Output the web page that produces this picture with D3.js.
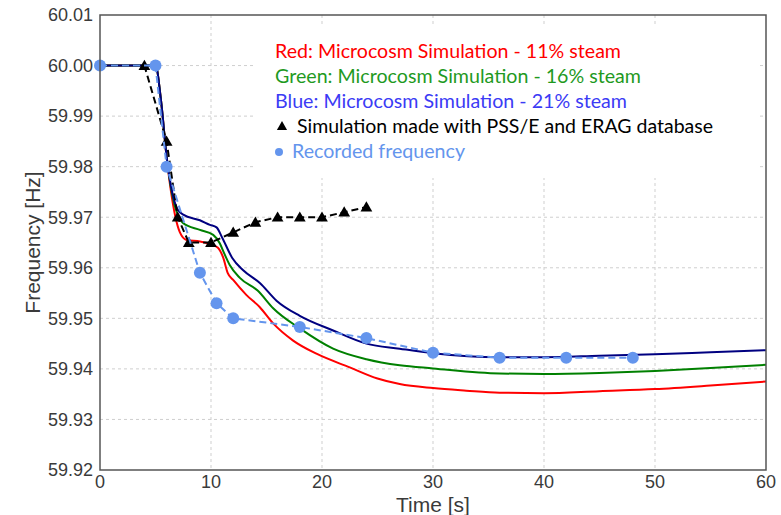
<!DOCTYPE html>
<html>
<head>
<meta charset="utf-8">
<script src="https://cdn.jsdelivr.net/npm/d3@7"></script>
<style>
  body { margin: 0; background: #fff; }
  svg { display: block; }
</style>
</head>
<body>
<svg id="chart"></svg>
<script>
// time [s] / frequency [Hz]
const redSim = [[0,60.000],[5,60.000],[5.5,59.993],[6,59.982],[6.4,59.975],[6.8,59.970],[7.2,59.967],[7.8,59.9655],[9,59.9652],[9.9,59.9647],[10.6,59.964],[11.1,59.962],[11.5,59.959],[12,59.9576],[13.2,59.9546],[14.4,59.9522],[15.6,59.949],[17.4,59.9456],[19.5,59.943],[22.5,59.9403],[25,59.9381],[27,59.937],[30,59.9362],[33,59.9357],[36,59.9353],[40,59.9352],[45,59.9356],[50,59.9360],[55,59.9367],[60,59.9375]];
const greenSim = [[0,60.000],[5,60.000],[5.5,59.993],[6,59.982],[6.5,59.9745],[7,59.9705],[7.5,59.9688],[9,59.9675],[10.2,59.9665],[10.8,59.9648],[11.2,59.9628],[11.7,59.9605],[12.6,59.958],[14.2,59.9555],[15.6,59.952],[18,59.948],[21,59.944],[24,59.9419],[27,59.9407],[30,59.9401],[36,59.9391],[40,59.9390],[45,59.9392],[50,59.9396],[55,59.9402],[60,59.9408]];
const blueSim = [[0,60.000],[5,60.000],[5.5,59.993],[6,59.982],[6.5,59.975],[7,59.9715],[7.5,59.9705],[9,59.9694],[9.9,59.9685],[10.5,59.968],[11,59.966],[11.9,59.962],[12.9,59.9595],[14.4,59.957],[15.9,59.9535],[18,59.9505],[21,59.9476],[24,59.945],[27,59.944],[30,59.9431],[36,59.9423],[40,59.9423],[45,59.9426],[50,59.9429],[55,59.9433],[60,59.9437]];
const psseSim = [[0,60.000],[4,60.000],[6,59.985],[7,59.970],[8,59.965],[10,59.965],[12,59.967],[14,59.969],[16,59.970],[18,59.970],[20,59.970],[22,59.971],[24,59.972]];
const recorded = [[0,60.000],[5,60.000],[6,59.980],[9,59.959],[10.5,59.953],[12,59.950],[18,59.9483],[24,59.9461],[30,59.9432],[36,59.9422],[42,59.9422],[48,59.9422]];

const xTicks = [0, 10, 20, 30, 40, 50, 60];
const yTicks = [59.92, 59.93, 59.94, 59.95, 59.96, 59.97, 59.98, 59.99, 60.00, 60.01];
const legendItems = [
  {text: "Red: Microcosm Simulation - 11% steam", color: "#ff0000", mark: null, len: 346},
  {text: "Green: Microcosm Simulation - 16% steam", color: "#1f9a1f", mark: null, len: 366},
  {text: "Blue: Microcosm Simulation - 21% steam", color: "#3b3bf5", mark: null, len: 352},
  {text: "Simulation made with PSS/E and ERAG database", color: "#000000", mark: "triangle", len: 416},
  {text: "Recorded frequency", color: "#6495ed", mark: "dot", len: 173}
];

const width = 781, height = 515;
const margin = {top: 15, right: 15, bottom: 45, left: 100};

const svg = d3.select("#chart")
    .attr("width", width)
    .attr("height", height)
    .attr("viewBox", [0, 0, width, height]);

const x = d3.scaleLinear().domain([0, 60]).range([margin.left, width - margin.right]);
const y = d3.scaleLinear().domain([59.92, 60.01]).range([height - margin.bottom, margin.top]);

// grid
svg.append("g")
    .selectAll("line.vgrid")
    .data(xTicks.slice(1, -1))
    .join("line")
    .attr("x1", d => x(d)).attr("x2", d => x(d))
    .attr("y1", y(60.01)).attr("y2", y(59.92))
    .attr("stroke", "#cfcfcf").attr("stroke-dasharray", "3,3");
svg.append("g")
    .selectAll("line.hgrid")
    .data(yTicks.slice(1, -1))
    .join("line")
    .attr("x1", x(0)).attr("x2", x(60))
    .attr("y1", d => y(d)).attr("y2", d => y(d))
    .attr("stroke", "#cfcfcf").attr("stroke-dasharray", "3,3");

// legend box hides the grid behind it
svg.append("rect")
    .attr("x", 253).attr("y", 27)
    .attr("width", 504).attr("height", 151)
    .attr("fill", "#fff");

const lineSmooth = d3.line().x(d => x(d[0])).y(d => y(d[1])).curve(d3.curveMonotoneX);
const lineStraight = d3.line().x(d => x(d[0])).y(d => y(d[1]));

const plot = svg.append("g");

plot.append("path").datum(redSim).attr("d", lineSmooth)
    .attr("fill", "none").attr("stroke", "#ff0000").attr("stroke-width", 2);
plot.append("path").datum(greenSim).attr("d", lineSmooth)
    .attr("fill", "none").attr("stroke", "#008000").attr("stroke-width", 2);
plot.append("path").datum(blueSim).attr("d", lineSmooth)
    .attr("fill", "none").attr("stroke", "#000080").attr("stroke-width", 2);

plot.append("path").datum(psseSim).attr("d", lineStraight)
    .attr("fill", "none").attr("stroke", "#000").attr("stroke-width", 2)
    .attr("stroke-dasharray", "7,4");
plot.append("g")
    .selectAll("path")
    .data(psseSim.slice(1))
    .join("path")
    .attr("transform", d => `translate(${x(d[0])},${y(d[1]) + 1})`)
    .attr("d", d3.symbol(d3.symbolTriangle, 60))
    .attr("fill", "#000");

plot.append("path").datum(recorded).attr("d", lineStraight)
    .attr("fill", "none").attr("stroke", "#6495ed").attr("stroke-width", 2)
    .attr("stroke-dasharray", "7,4");
plot.append("g")
    .selectAll("circle")
    .data(recorded)
    .join("circle")
    .attr("cx", d => x(d[0]))
    .attr("cy", d => y(d[1]))
    .attr("r", 6)
    .attr("fill", "#6495ed");

// frame
svg.append("rect")
    .attr("x", x(0)).attr("y", y(60.01))
    .attr("width", x(60) - x(0)).attr("height", y(59.92) - y(60.01))
    .attr("fill", "none").attr("stroke", "#555").attr("stroke-width", 1.5);

// tick labels
svg.append("g")
    .selectAll("text")
    .data(yTicks)
    .join("text")
    .attr("x", x(0) - 7)
    .attr("y", d => y(d))
    .attr("dy", "0.35em")
    .attr("text-anchor", "end")
    .style("font", "18px 'Liberation Sans', Arial, sans-serif")
    .style("fill", "#3a3a3a")
    .text(d => d.toFixed(2));

svg.append("g")
    .selectAll("text")
    .data(xTicks)
    .join("text")
    .attr("x", d => x(d))
    .attr("y", 488)
    .attr("text-anchor", "middle")
    .style("font", "18px 'Liberation Sans', Arial, sans-serif")
    .style("fill", "#3a3a3a")
    .text(d => d);

// axis titles
svg.append("text")
    .attr("x", (x(0) + x(60)) / 2)
    .attr("y", 512)
    .attr("text-anchor", "middle")
    .style("font", "21px 'Liberation Sans', Arial, sans-serif")
    .style("fill", "#3a3a3a")
    .text("Time [s]");

svg.append("text")
    .attr("transform", `translate(40,${(y(59.92) + y(60.01)) / 2}) rotate(-90)`)
    .attr("text-anchor", "middle")
    .style("font", "21px 'Liberation Sans', Arial, sans-serif")
    .style("fill", "#3a3a3a")
    .text("Frequency [Hz]");

// legend
const legend = svg.append("g").attr("class", "legend");
legend.selectAll("g")
    .data(legendItems)
    .join("g")
    .each(function (d, i) {
        const g = d3.select(this);
        const cy = 52 + i * 25;
        let tx = 275;
        if (d.mark === "triangle") {
            g.append("path")
                .attr("transform", `translate(282,${cy})`)
                .attr("d", d3.symbol(d3.symbolTriangle, 45))
                .attr("fill", d.color);
            tx = 297;
        } else if (d.mark === "dot") {
            g.append("circle")
                .attr("cx", 279).attr("cy", cy)
                .attr("r", 4)
                .attr("fill", d.color);
            tx = 292;
        }
        g.append("text")
            .attr("x", tx)
            .attr("y", cy + 6)
            .attr("textLength", d.len)
            .attr("lengthAdjust", "spacingAndGlyphs")
            .style("font", "18.5px Lato, 'Open Sans', sans-serif")
            .style("fill", d.color)
            .text(d.text);
    });
</script>
</body>
</html>
